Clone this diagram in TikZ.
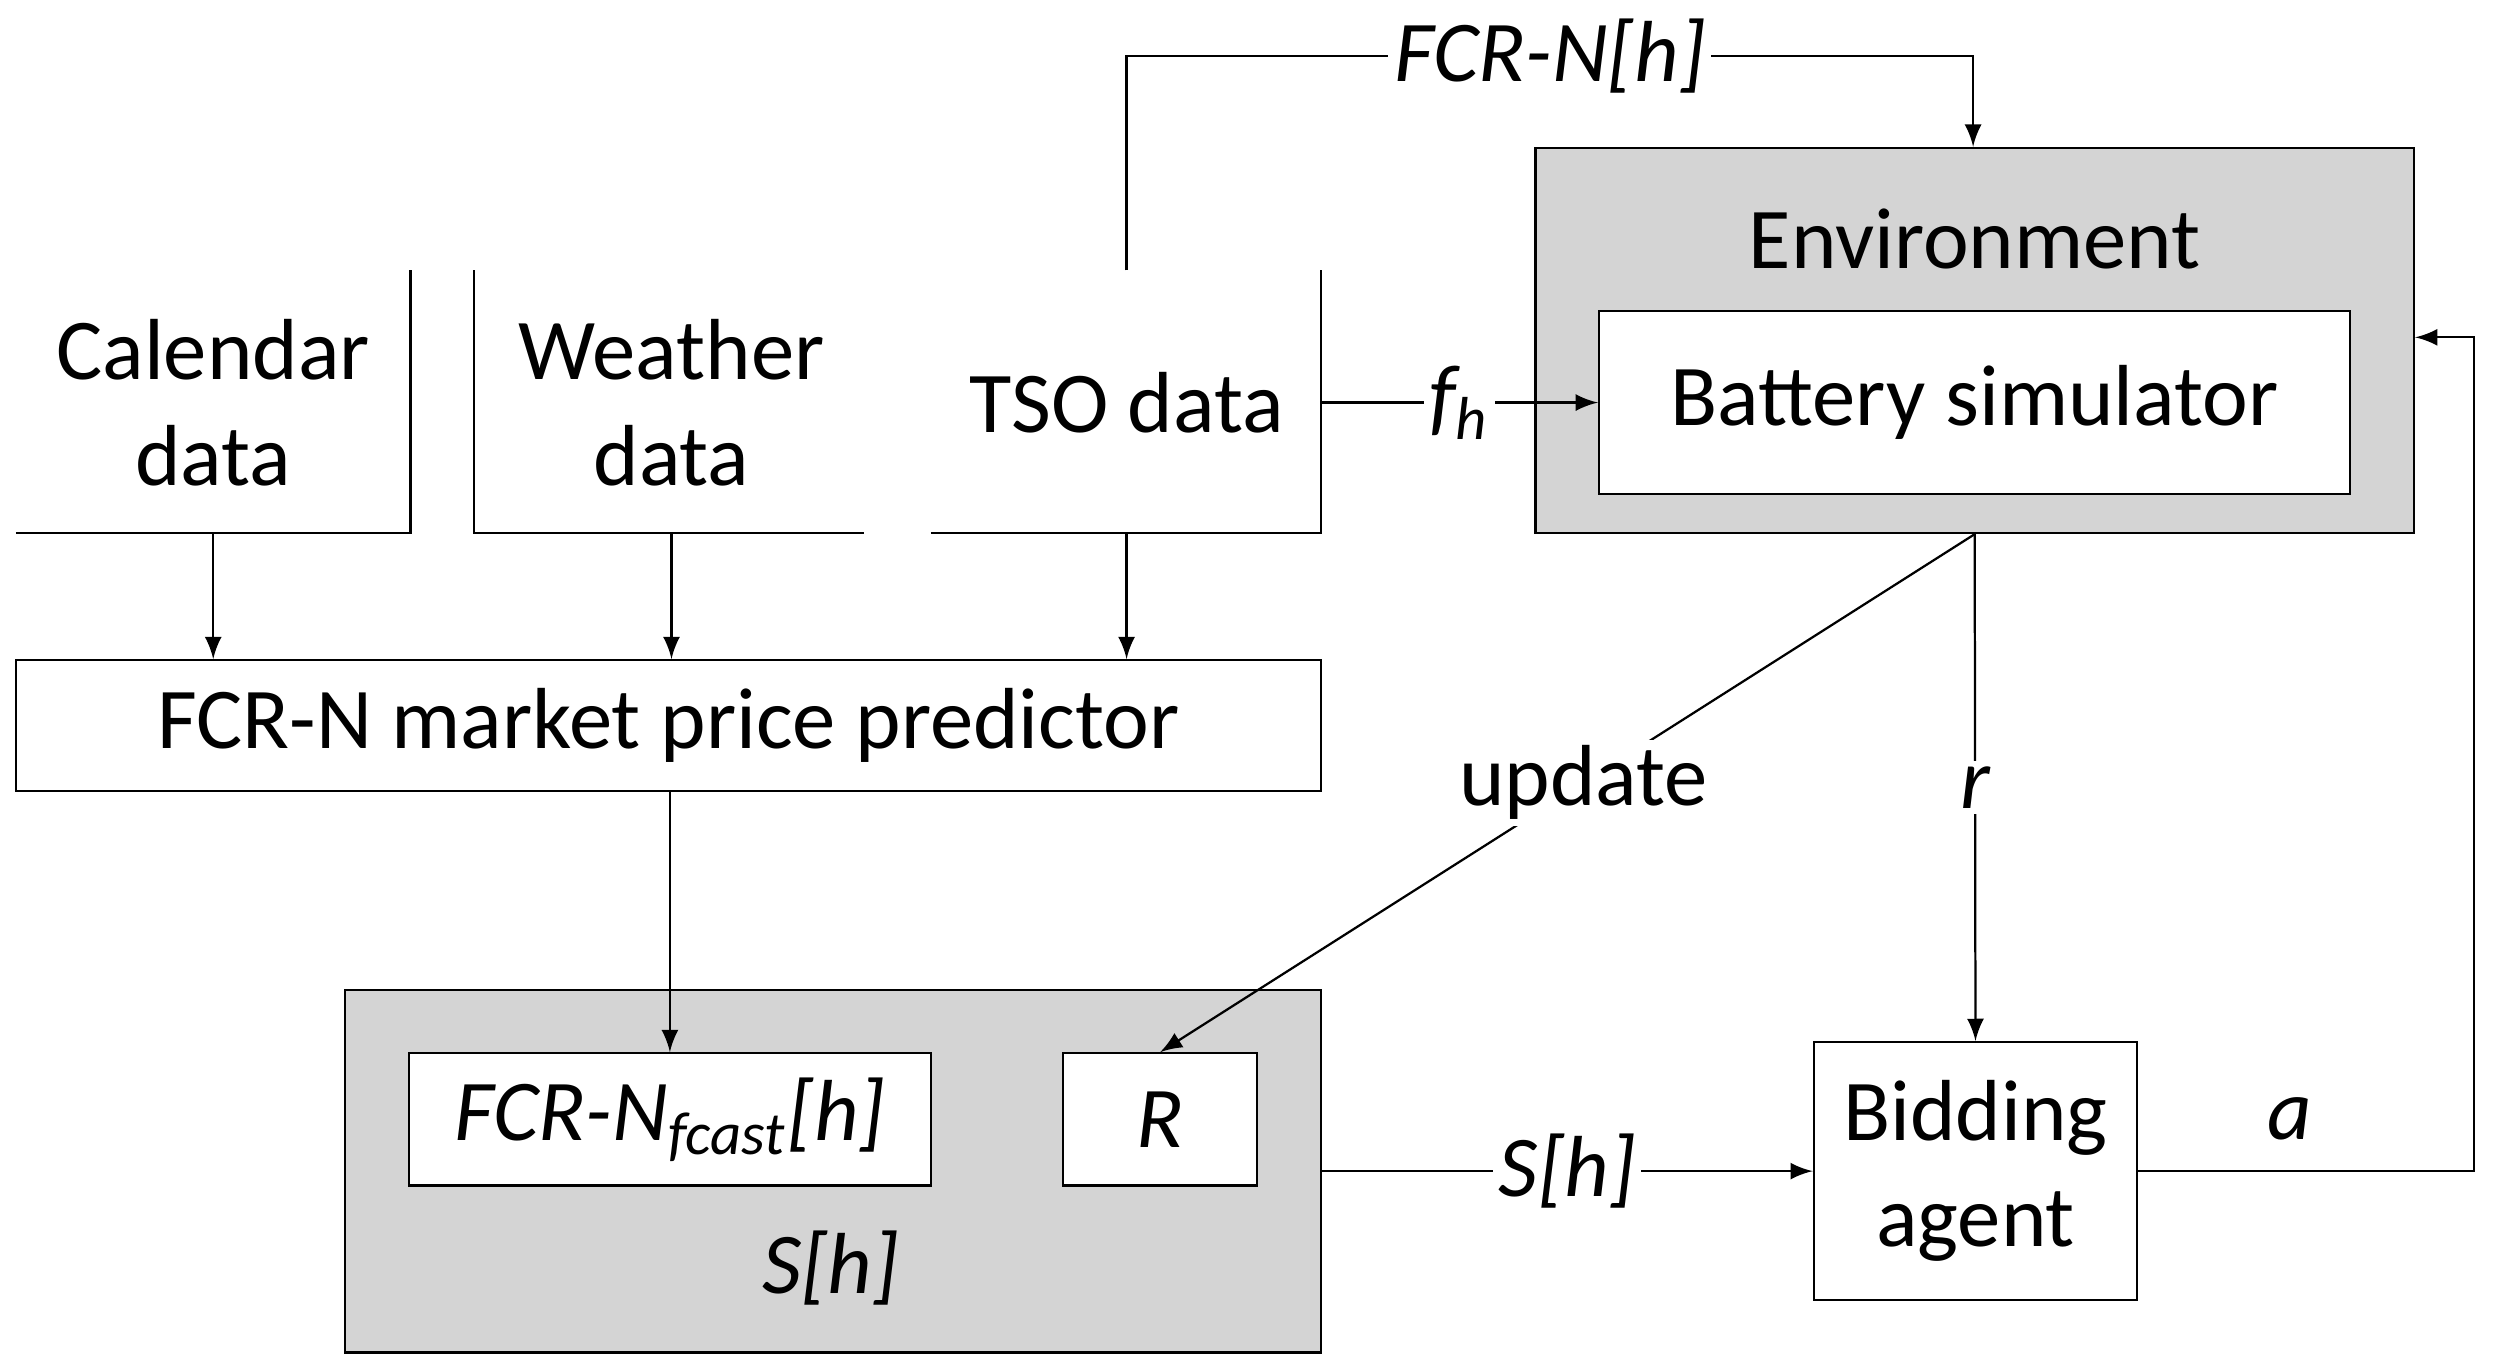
\documentclass[tikz,border=0pt]{standalone}
\usepackage{fontspec}
\setmainfont{Carlito}
\usetikzlibrary{positioning}
\begin{document}
\begin{tikzpicture}[
  font=\fontsize{15.5}{19}\selectfont,
  >=latex,
  box/.style={draw, fill=white, inner sep=0pt, align=center},
  grp/.style={draw, fill=black!17, inner sep=0pt},
  lbl/.style={fill=white, inner sep=1pt, font=\fontsize{15.5}{19}\selectfont\itshape}
]
  \useasboundingbox (0,0) rectangle (15.68,8.60);

  % Input data boxes (right and bottom edges only)
  \draw (0.10,5.25) -- (2.58,5.25) -- (2.58,6.90);
  \node (cal) at (1.34,6.07) [align=center] {Calendar\\data};
  \draw (2.98,6.90) -- (2.98,5.25) -- (5.43,5.25);
  \node (wea) at (4.22,6.07) [align=center] {Weather\\data};
  \draw (5.85,5.25) -- (8.30,5.25) -- (8.30,6.90);
  \node (tso) at (7.08,6.07) {TSO data};
  \coordinate (tsoT) at (7.08,6.90);
  \coordinate (tsoR) at (8.30,6.07);

  % Predictor
  \node (pred) [box, minimum width=8.20cm, minimum height=0.82cm] at (4.20,4.04) {FCR-N market price predictor};

  % Environment
  \node (env) [grp, minimum width=5.52cm, minimum height=2.42cm] at (12.41,6.46) {};
  \node at (12.41,7.10) {Environment};
  \node (bat) [box, minimum width=4.72cm, minimum height=1.15cm] at (12.41,6.07) {Battery simulator};

  % State
  \node (state) [grp, minimum width=6.13cm, minimum height=2.28cm] at (5.235,1.24) {};
  \node (fc) [box, minimum width=3.28cm, minimum height=0.83cm] at (4.21,1.565) {\itshape FCR-N\textsubscript{fcast}[h]};
  \node (rr) [box, minimum width=1.22cm, minimum height=0.83cm] at (7.29,1.565) {\itshape R};
  \node at (5.22,0.63) {\itshape S[h]};

  % Agent
  \node (agent) [box, minimum width=2.03cm, minimum height=1.62cm] at (12.415,1.24) {Bidding\\agent};

  % Connectors
  \draw[->] (cal.south |- 0,5.25) -- (cal.south |- pred.north);
  \draw[->] (wea.south |- 0,5.25) -- (wea.south |- pred.north);
  \draw[->] (tso.south |- 0,5.25) -- (tso.south |- pred.north);
  \draw[->] (pred.south -| fc.north) -- (fc.north);
  \draw[->] (tsoT) -- (7.08,8.25) -- node[lbl] {FCR-N[h]} (12.40,8.25) -- (env.north -| 12.40,0);
  \draw[->] (tsoR) -- node[lbl, pos=0.5] {f\textsubscript{h}} (bat.west);
  \draw[->] (env.south) -- node[lbl, pos=0.5] {r} (agent.north);
  \draw[->] (env.south) -- node[fill=white, inner sep=1pt, pos=0.48] {update} (rr.north);
  \draw[->] (state.east |- agent.west) -- node[lbl] {S[h]} (agent.west);
  \draw[->] (agent.east) -- node[above=2pt, pos=0.45, font=\fontsize{15.5}{19}\selectfont\itshape] {a} (15.55,1.24) -- (15.55,6.48) -- (env.east |- 0,6.48);
\end{tikzpicture}
\end{document}
